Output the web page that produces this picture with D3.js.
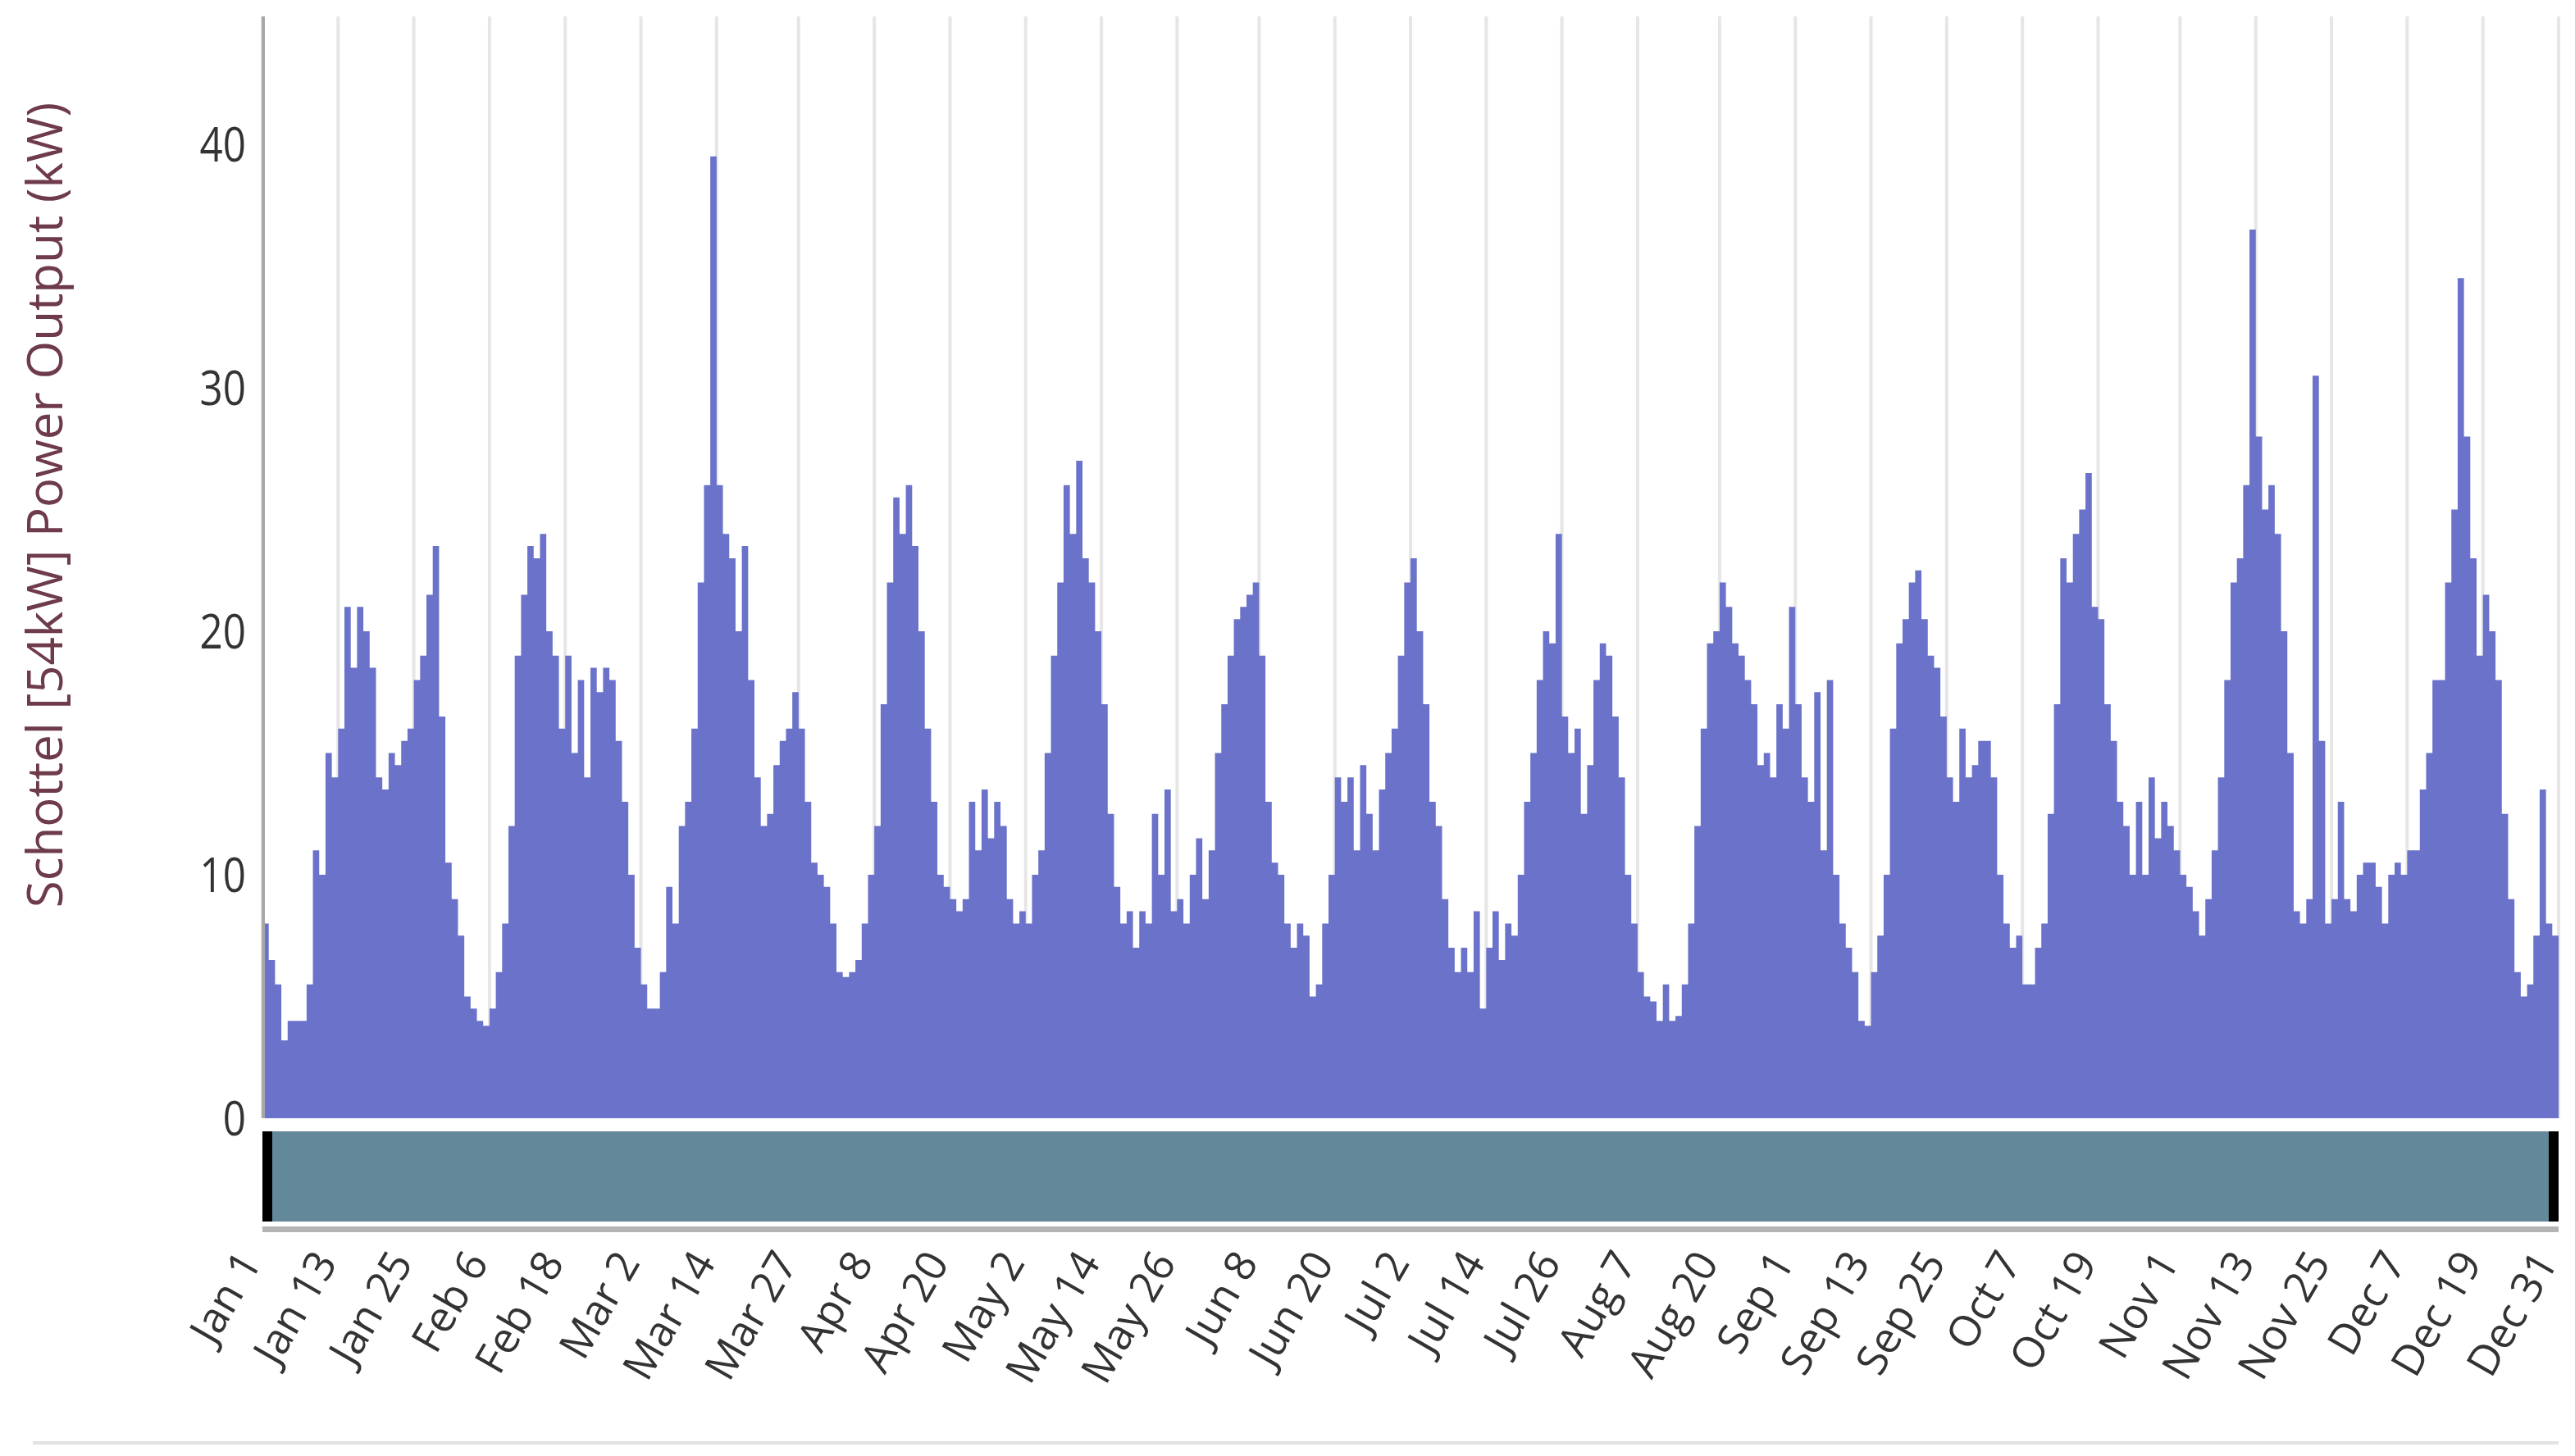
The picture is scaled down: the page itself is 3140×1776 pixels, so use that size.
<!DOCTYPE html>
<html><head><meta charset="utf-8">
<script src="https://cdn.jsdelivr.net/npm/d3@7"></script>
<style>body{margin:0;background:#fff;overflow:hidden}</style>
</head><body>
<svg id="c" width="3140" height="1776"></svg>
<script>
const startDate = "2019-01-01";
const power = [
8,6.5,5.5,3.2,4,4,4,5.5,11,10,15,14,
16,21,18.5,21,20,18.5,14,13.5,15,14.5,15.5,16,
18,19,21.5,23.5,16.5,10.5,9,7.5,5,4.5,4,3.8,
4.5,6,8,12,19,21.5,23.5,23,24,20,19,16,
19,15,18,14,18.5,17.5,18.5,18,15.5,13,10,7,
5.5,4.5,4.5,6,9.5,8,12,13,16,22,26,39.5,
26,24,23,20,23.5,18,14,12,12.5,14.5,15.5,16,17.5,
16,13,10.5,10,9.5,8,6,5.8,6,6.5,8,10,
12,17,22,25.5,24,26,23.5,20,16,13,10,9.5,
9,8.5,9,13,11,13.5,11.5,13,12,9,8,8.5,
8,10,11,15,19,22,26,24,27,23,22,20,
17,12.5,9.5,8,8.5,7,8.5,8,12.5,10,13.5,8.5,
9,8,10,11.5,9,11,15,17,19,20.5,21,21.5,22,
19,13,10.5,10,8,7,8,7.5,5,5.5,8,10,
14,13,14,11,14.5,12.5,11,13.5,15,16,19,22,
23,20,17,13,12,9,7,6,7,6,8.5,4.5,
7,8.5,6.5,8,7.5,10,13,15,18,20,19.5,24,
16.5,15,16,12.5,14.5,18,19.5,19,16.5,14,10,8,
6,5,4.8,4,5.5,4,4.2,5.5,8,12,16,19.5,20,
22,21,19.5,19,18,17,14.5,15,14,17,16,21,
17,14,13,17.5,11,18,10,8,7,6,4,3.8,
6,7.5,10,16,19.5,20.5,22,22.5,20.5,19,18.5,16.5,
14,13,16,14,14.5,15.5,15.5,14,10,8,7,7.5,
5.5,5.5,7,8,12.5,17,23,22,24,25,26.5,21,
20.5,17,15.5,13,12,10,13,10,14,11.5,13,12,11,
10,9.5,8.5,7.5,9,11,14,18,22,23,26,36.5,
28,25,26,24,20,15,8.5,8,9,30.5,15.5,8,
9,13,9,8.5,10,10.5,10.5,9.5,8,10,10.5,10,
11,11,13.5,15,18,18,22,25,34.5,28,23,19,
21.5,20,18,12.5,9,6,5,5.5,7.5,13.5,8,7.5,
9.5
];
const tickLabels = ["Jan 1","Jan 13","Jan 25","Feb 6","Feb 18","Mar 2","Mar 14","Mar 27","Apr 8","Apr 20","May 2","May 14","May 26","Jun 8","Jun 20","Jul 2","Jul 14","Jul 26","Aug 7","Aug 20","Sep 1","Sep 13","Sep 25","Oct 7","Oct 19","Nov 1","Nov 13","Nov 25","Dec 7","Dec 19","Dec 31"];
const yTicks = [0,10,20,30,40];
const yTitle = "Schottel [54kW] Power Output (kW)";

const svg = d3.select("#c");
const parse = d3.timeParse("%Y-%m-%d");
const t0 = parse(startDate);
const data = power.map((v,i)=>({d:d3.timeDay.offset(t0,i), v}));
data.push({d:d3.timeDay.offset(t0,power.length), v:power[power.length-1]});
const parseTick = s => d3.timeParse("%Y %b %d")("2019 "+s);

const x = d3.scaleTime().domain([t0, parse("2019-12-31")]).range([320,3120]);
const y = d3.scaleLinear().domain([0,40]).range([1364,176]);
const plotTop = 20;

svg.append("g").selectAll("line").data(tickLabels).join("line")
  .attr("x1",d=>x(parseTick(d))).attr("x2",d=>x(parseTick(d)))
  .attr("y1",plotTop).attr("y2",y(0)).attr("stroke","#e6e6e6").attr("stroke-width",4);

svg.append("clipPath").attr("id","cp").append("rect")
  .attr("x",320).attr("y",0).attr("width",2800).attr("height",1400);
const area = d3.area().x(d=>x(d.d)).y0(y(0)).y1(d=>y(d.v)).curve(d3.curveStepAfter);
svg.append("path").datum(data).attr("clip-path","url(#cp)")
  .attr("d",area).attr("fill","#6a72c9");

svg.append("line").attr("x1",321).attr("x2",321).attr("y1",plotTop).attr("y2",y(0))
  .attr("stroke","#a8a8a8").attr("stroke-width",4);

svg.append("g").selectAll("text").data(yTicks).join("text")
  .attr("x",300).attr("y",d=>y(d)).attr("dy","0.36em").attr("text-anchor","end")
  .attr("font-family","Open Sans, sans-serif").attr("font-size",58).attr("fill","#333")
  .attr("transform",d=>`translate(300,${y(d)}) scale(0.85,1) translate(-300,${-y(d)})`)
  .text(d=>d);

svg.append("text").attr("transform","translate(76,616) rotate(-90)")
  .attr("text-anchor","middle").attr("font-family","Open Sans, sans-serif")
  .attr("font-size",60).attr("fill","#6e3b4a").text(yTitle);

svg.append("rect").attr("x",320).attr("y",1380).attr("width",2800).attr("height",110).attr("fill","#62889a");
svg.append("rect").attr("x",320).attr("y",1380).attr("width",12).attr("height",110).attr("fill","#000");
svg.append("rect").attr("x",3108).attr("y",1380).attr("width",12).attr("height",110).attr("fill","#000");
svg.append("rect").attr("x",320).attr("y",1496).attr("width",2800).attr("height",7).attr("fill","#b4b4b4");

svg.append("g").selectAll("text").data(tickLabels).join("text")
  .attr("transform",d=>`translate(${x(parseTick(d))},1540) rotate(-60)`)
  .attr("text-anchor","end").attr("font-family","Open Sans, sans-serif")
  .attr("font-size",52).attr("fill","#333").text(d=>d);

svg.append("rect").attr("x",40).attr("y",1758).attr("width",3080).attr("height",4).attr("fill","#e2e2e2");
</script>
</body></html>
